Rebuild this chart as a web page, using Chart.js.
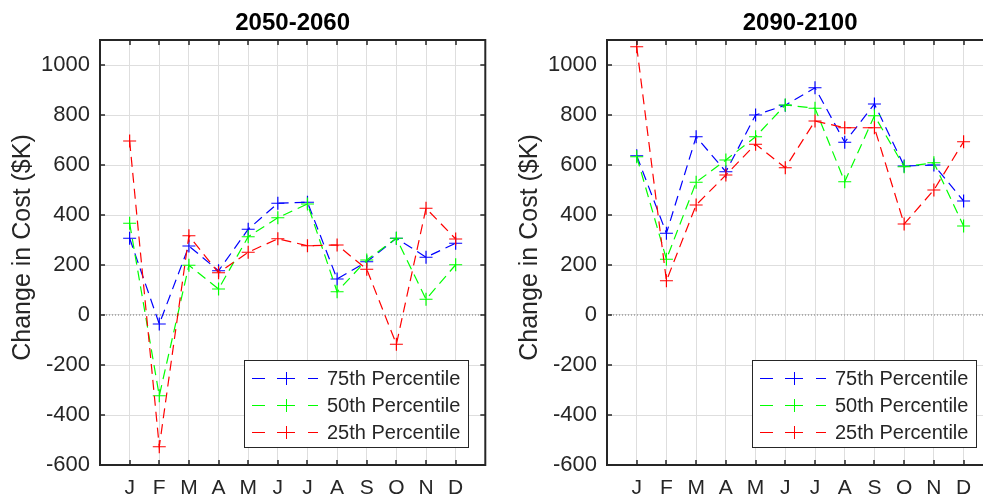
<!DOCTYPE html>
<html>
<head>
<meta charset="utf-8">
<script src="https://cdn.jsdelivr.net/npm/chart.js@4/dist/chart.umd.min.js"></script>
<style>
html,body{margin:0;padding:0;background:#fff;overflow:hidden;width:983px;height:499px;}
canvas{position:absolute;top:0;}
#left{left:0;}
#right{left:507px;}
</style>
</head>
<body>
<canvas id="left" width="493" height="499"></canvas>
<canvas id="right" width="494" height="499"></canvas>
<script>
// Données
const months = ["J","F","M","A","M","J","J","A","S","O","N","D"];
const yTicks = [-600,-400,-200,0,200,400,600,800,1000];
const seriesNames = ["75th Percentile","50th Percentile","25th Percentile"];
const seriesColors = ["#0000ff","#00ff00","#ff0000"];

// 2050-2060
const p75_2050 = [307,-36,276,177,343,447,451,144,213,307,231,287];
const p50_2050 = [367,-323,199,104,313,389,444,93,220,307,63,201];
const p25_2050 = [696,-527,317,169,251,305,277,280,183,-117,427,304];
// 2090-2100
const p75_2090 = [637,327,713,573,800,839,909,691,844,596,600,456];
const p50_2090 = [633,223,531,620,713,840,827,533,797,593,609,356];
const p25_2090 = [1073,137,440,560,683,589,776,749,749,364,500,693];

const FONT = '"Liberation Sans", Arial, sans-serif';
const AXIS = "#262626";
const GRID = "#dedede";

// cadre, titre, label Y et légende façon MATLAB
function framePlugin(title){
  return {
    id: "frame",
    afterDraw(chart){
      const {ctx, chartArea:a, scales:{x, y}} = chart;
      ctx.save();
      // titre
      ctx.fillStyle = "#000";
      ctx.font = "bold 24px " + FONT;
      ctx.textAlign = "center";
      ctx.textBaseline = "alphabetic";
      ctx.fillText(title, (a.left+a.right)/2, 30);
      // label Y
      ctx.save();
      ctx.translate(a.left-77, (a.top+a.bottom)/2 - 5);
      ctx.rotate(-Math.PI/2);
      ctx.fillStyle = AXIS;
      ctx.font = "25px " + FONT;
      ctx.textAlign = "center";
      ctx.textBaseline = "middle";
      ctx.fillText("Change in Cost ($K)", 0, 0);
      ctx.restore();
      // boîte
      ctx.strokeStyle = AXIS;
      ctx.lineWidth = 2;
      ctx.strokeRect(a.left, a.top, a.right-a.left, a.bottom-a.top);
      // ticks intérieurs
      ctx.lineWidth = 1.5;
      ctx.beginPath();
      months.forEach((m,i)=>{
        const px = Math.round(x.getPixelForValue(i+1));
        ctx.moveTo(px, a.bottom); ctx.lineTo(px, a.bottom-5);
        ctx.moveTo(px, a.top); ctx.lineTo(px, a.top+5);
      });
      yTicks.forEach(v=>{
        const py = Math.round(y.getPixelForValue(v));
        ctx.moveTo(a.left, py); ctx.lineTo(a.left+5, py);
        ctx.moveTo(a.right, py); ctx.lineTo(a.right-5, py);
      });
      ctx.stroke();
      // légende
      const lw = 224, lh = 87;
      const lx = Math.round(a.right-17-lw), ly = Math.round(a.bottom-18-lh);
      ctx.fillStyle = "#fff";
      ctx.fillRect(lx, ly, lw, lh);
      ctx.strokeStyle = AXIS;
      ctx.lineWidth = 1;
      ctx.strokeRect(lx+0.5, ly+0.5, lw, lh);
      ctx.font = "20px " + FONT;
      ctx.textAlign = "left";
      ctx.textBaseline = "middle";
      seriesNames.forEach((n,i)=>{
        const yy = Math.round(ly+18+i*27)+0.5;
        ctx.strokeStyle = seriesColors[i];
        ctx.beginPath();
        [[8,21],[33,51],[64,74]].forEach(([s,e])=>{ ctx.moveTo(lx+s,yy); ctx.lineTo(lx+e,yy); });
        ctx.moveTo(lx+42.5,yy-6.5); ctx.lineTo(lx+42.5,yy+6.5);
        ctx.stroke();
        ctx.fillStyle = AXIS;
        ctx.fillText(n, lx+83, yy+1);
      });
      ctx.restore();
    }
  };
}

function makeChart(id, title, s75, s50, s25){
  const vals = [s75, s50, s25];
  const datasets = vals.map((v,i)=>({
    label: seriesNames[i],
    data: v.map((val,k)=>({x:k+1, y:val})),
    borderColor: seriesColors[i],
    backgroundColor: seriesColors[i],
    borderWidth: 1.2,
    borderDash: [10,6],
    pointStyle: "cross",
    pointRadius: 6.5,
    pointBorderWidth: 1.2,
    pointBorderColor: seriesColors[i],
    tension: 0,
    fill: false,
    order: 3-i
  }));
  // ligne zéro pointillée
  datasets.push({
    label: "zero", data: [{x:0,y:0},{x:13,y:0}],
    borderColor: "#777", borderWidth: 1, borderDash: [1,2],
    pointRadius: 0, order: 10
  });
  return new Chart(document.getElementById(id), {
    type: "line",
    data: { datasets },
    options: {
      responsive: false,
      animation: false,
      layout: { padding: { top: 40, right: 5, left: 0, bottom: 0 } },
      plugins: { legend: { display: false }, tooltip: { enabled: false } },
      scales: {
        x: {
          type: "linear", min: 0, max: 13,
          afterBuildTicks: s => { s.ticks = months.map((m,i)=>({value:i+1})); },
          afterFit: s => { s.height = 34; },
          ticks: { callback: v => months[v-1] || "", autoSkip: false, maxRotation: 0,
                   padding: 11, color: AXIS, font: { family: FONT, size: 21 } },
          grid: { color: GRID, drawTicks: false },
          border: { display: false }
        },
        y: {
          min: -600, max: 1100,
          afterBuildTicks: s => { s.ticks = yTicks.map(v=>({value:v})); },
          afterFit: s => { s.width = 100; },
          ticks: { callback: v => String(v), padding: 10, color: AXIS, font: { family: FONT, size: 22 } },
          grid: { color: GRID, drawTicks: false },
          border: { display: false }
        }
      }
    },
    plugins: [framePlugin(title)]
  });
}

makeChart("left", "2050-2060", p75_2050, p50_2050, p25_2050);
makeChart("right", "2090-2100", p75_2090, p50_2090, p25_2090);
</script>
</body>
</html>
